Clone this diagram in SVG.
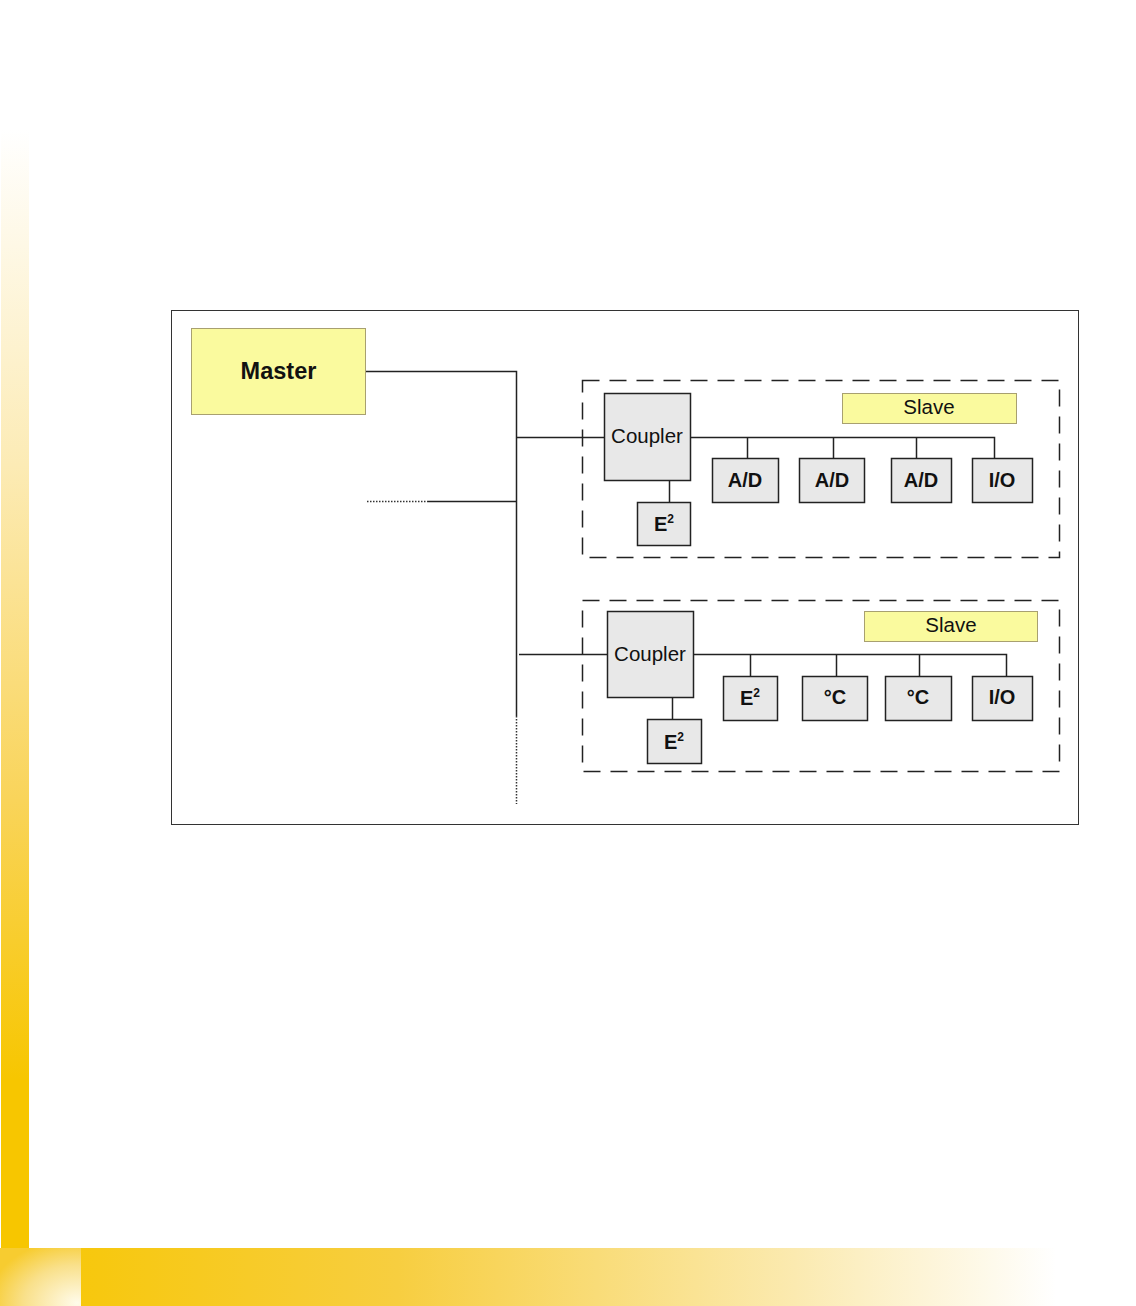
<svg xmlns="http://www.w3.org/2000/svg" width="1136" height="1306" viewBox="0 0 1136 1306">
<defs>
<linearGradient id="lbar" x1="0" y1="0" x2="0" y2="1">
<stop offset="0" stop-color="#FFFFFF"/>
<stop offset="0.3" stop-color="#FCEBB5"/>
<stop offset="0.6" stop-color="#F9D45A"/>
<stop offset="0.85" stop-color="#F7C600"/>
<stop offset="1" stop-color="#F7C600"/>
</linearGradient>
<linearGradient id="bbar" x1="0" y1="0" x2="1" y2="0">
<stop offset="0" stop-color="#F7C600"/>
<stop offset="0.35" stop-color="#F7CE40"/>
<stop offset="0.7" stop-color="#FBEAB0"/>
<stop offset="0.93" stop-color="#FFFFFF"/>
<stop offset="1" stop-color="#FFFFFF"/>
</linearGradient>
<radialGradient id="corner" cx="0.95" cy="0.95" r="1.1">
<stop offset="0" stop-color="#FFFBEA"/>
<stop offset="0.6" stop-color="#F9E08A"/>
<stop offset="1" stop-color="#F7CC30"/>
</radialGradient>
<style>
.frame{fill:#FFFFFF;stroke:#333;stroke-width:1}
.yel{fill:#FAFA9E;stroke:#A8A070;stroke-width:1}
.mod{fill:#E8E8E8;stroke:#222;stroke-width:1.5}
.dash{fill:none;stroke:#222;stroke-width:1.5;stroke-dasharray:17 10}
.ln{fill:none;stroke:#222;stroke-width:1.5}
.dot{fill:none;stroke:#333;stroke-width:1.5;stroke-dasharray:1.5 1.5}
text{font-family:"Liberation Sans",Arial,sans-serif;fill:#111;text-anchor:middle}
.b{font-weight:bold;font-size:20px}
.big{font-size:23.5px}
.r{font-size:20.5px}
.sup{font-size:12px}
</style>
</defs>
<rect x="0" y="0" width="1136" height="1306" fill="#FFFFFF"/>
<rect x="1" y="129" width="28" height="1119" fill="url(#lbar)"/>
<rect x="0" y="1248" width="1136" height="58" fill="url(#bbar)"/>
<rect x="0" y="1248" width="81" height="58" fill="url(#corner)"/>
<rect class="frame" x="171.5" y="310.5" width="907" height="514"/>
<g id="connectors">
<path class="ln" d="M365 371.5H516.5V716"/>
<path class="dot" d="M516.5 716V804"/>
<path class="ln" d="M516 437.5H604"/>
<path class="ln" d="M428 501.5H516"/>
<path class="dot" d="M367 501.5H428"/>
<path class="ln" d="M519 654.5H607"/>
<path class="ln" d="M669.5 480V502"/>
<path class="ln" d="M690 437.5H994.5V458M747.5 437.5V458M833.5 437.5V458M916.5 437.5V458"/>
<path class="ln" d="M672.5 697V719"/>
<path class="ln" d="M693 654.5H1006.5V676M750.5 654.5V676M836.5 654.5V676M919.5 654.5V676"/>
</g>
<g id="slave1-group"><rect class="dash" x="582.5" y="380.5" width="477" height="177"/></g>
<g id="slave2-group"><rect class="dash" x="582.5" y="600.5" width="477" height="171"/></g>
<g id="master"><rect class="yel" x="191.5" y="328.5" width="174" height="86"/><text class="b big" x="278.5" y="379">Master</text></g>
<g id="coupler1"><rect class="mod" x="604.5" y="393.5" width="86" height="87"/><text class="r" x="647" y="443">Coupler</text></g>
<g id="e2-1"><rect class="mod" x="637.5" y="502.5" width="53" height="43"/><text class="b" x="664" y="531">E<tspan class="sup" dy="-8">2</tspan></text></g>
<g id="slave1"><rect class="yel" x="842.5" y="393.5" width="174" height="30"/><text class="r" x="929" y="414">Slave</text></g>
<g id="ad1"><rect class="mod" x="712.5" y="458.5" width="66" height="44"/><text class="b" x="745" y="487">A/D</text></g>
<g id="ad2"><rect class="mod" x="799.5" y="458.5" width="65" height="44"/><text class="b" x="832" y="487">A/D</text></g>
<g id="ad3"><rect class="mod" x="891.5" y="458.5" width="60" height="44"/><text class="b" x="921" y="487">A/D</text></g>
<g id="io1"><rect class="mod" x="972.5" y="458.5" width="60" height="44"/><text class="b" x="1002" y="487">I/O</text></g>
<g id="coupler2"><rect class="mod" x="607.5" y="611.5" width="86" height="86"/><text class="r" x="650" y="661">Coupler</text></g>
<g id="e2-2"><rect class="mod" x="647.5" y="719.5" width="54" height="44"/><text class="b" x="674" y="749">E<tspan class="sup" dy="-8">2</tspan></text></g>
<g id="slave2"><rect class="yel" x="864.5" y="611.5" width="173" height="30"/><text class="r" x="951" y="632">Slave</text></g>
<g id="e2-3"><rect class="mod" x="723.5" y="676.5" width="54" height="44"/><text class="b" x="750" y="705">E<tspan class="sup" dy="-8">2</tspan></text></g>
<g id="tc1"><rect class="mod" x="802.5" y="676.5" width="65" height="44"/><text class="b" x="835" y="704">°C</text></g>
<g id="tc2"><rect class="mod" x="885.5" y="676.5" width="66" height="44"/><text class="b" x="918" y="704">°C</text></g>
<g id="io2"><rect class="mod" x="972.5" y="676.5" width="60" height="44"/><text class="b" x="1002" y="704">I/O</text></g>
</svg>
